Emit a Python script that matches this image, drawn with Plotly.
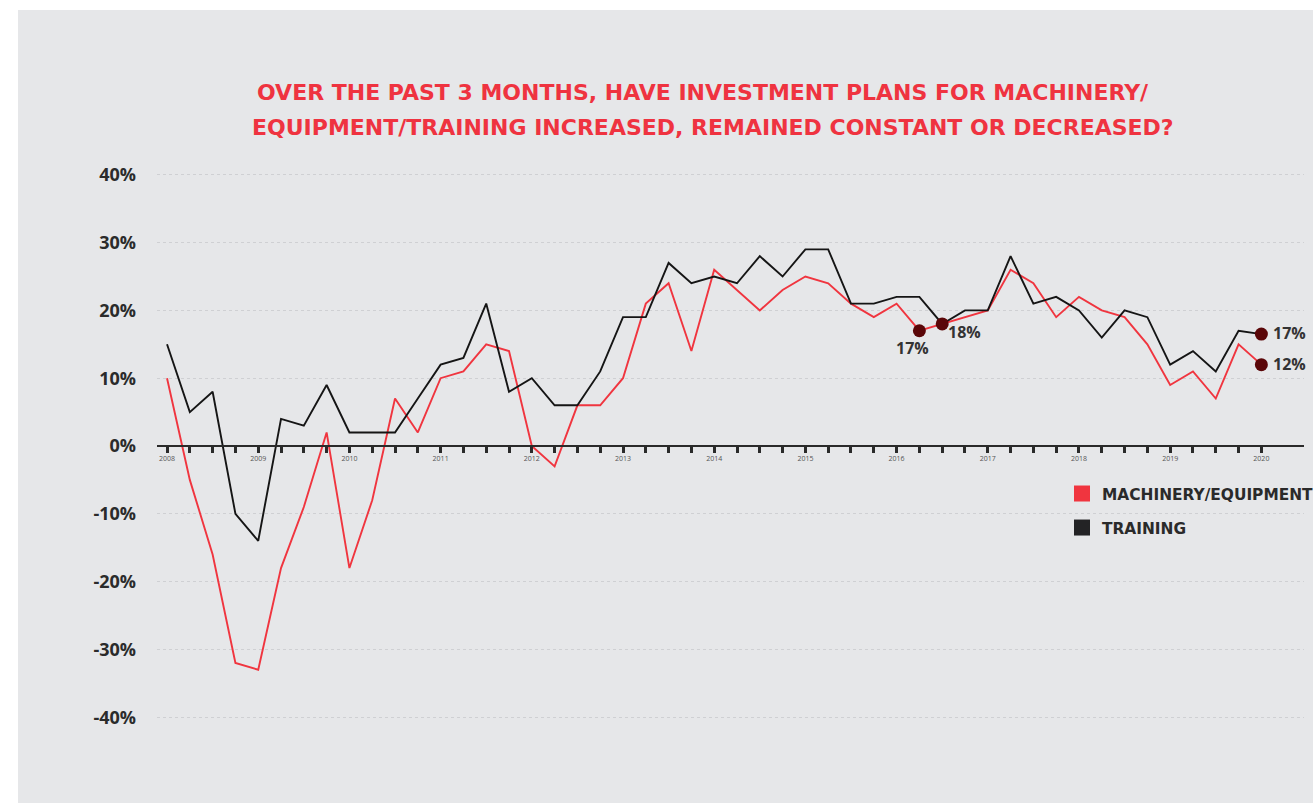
import plotly.graph_objects as go

# ---------------- data ----------------
quarters = [f"{y} Q{q}" for y in range(2008, 2021) for q in range(1, 5)][:49]
machinery = [10, -5, -16, -32, -33, -18, -9, 2, -18, -8, 7, 2,
             10, 11, 15, 14, 0, -3, 6, 6, 10, 21, 24, 14,
             26, 23, 20, 23, 25, 24, 21, 19, 21, 17, 18, 19,
             20, 26, 24, 19, 22, 20, 19, 15, 9, 11, 7, 15, 12]
training = [15, 5, 8, -10, -14, 4, 3, 9, 2, 2, 2, 7,
            12, 13, 21, 8, 10, 6, 6, 11, 19, 19, 27, 24,
            25, 24, 28, 25, 29, 29, 21, 21, 22, 22, 18, 20,
            20, 28, 21, 22, 20, 16, 20, 19, 12, 14, 11, 17, 16.5]
y_ticks = [-40, -30, -20, -10, 0, 10, 20, 30, 40]
y_tick_labels = [f"{v}%" for v in y_ticks]
title_lines = ["OVER THE PAST 3 MONTHS, HAVE INVESTMENT PLANS FOR MACHINERY/",
               "EQUIPMENT/TRAINING INCREASED, REMAINED CONSTANT OR DECREASED?"]
series_names = ["MACHINERY/EQUIPMENT", "TRAINING"]
# highlighted points: (series, quarter index, label)
highlights = [("machinery", 33, "17%"), ("training", 34, "18%"),
              ("training", 48, "17%"), ("machinery", 48, "12%")]

# ---------------- styles ----------------
RED = "#f0353f"
BLACK = "#151515"
DOT = "#5a0608"
BG = "#e6e7e9"
FONT = "Open Sans"
WIDE = "DejaVu Sans"
OFF = 0  # page body margin removed via post_script
# figure a bit wider than the window so the legend never pushes the margins
W, H = 1313 + 30, 805
# plot area in screen pixels: x 157..1304, y 168..724
ML, MT = 157 - OFF, 168 - OFF
MR = W - (1304 - OFF)
MB = H - (724 - OFF)
pw = W - ML - MR
ph = H - MT - MB


def px_x(sx):
    return (sx - OFF - ML) / pw


def px_y(sy):
    return (H - MB - (sy - OFF)) / ph


x_idx = list(range(len(quarters)))
tickvals = x_idx
ticktext = [q.split(" ")[0] if q.endswith("Q1") else "" for q in quarters]

fig = go.Figure()

fig.add_trace(go.Scatter(x=x_idx, y=machinery, mode="lines", name=series_names[0],
                         line=dict(color=RED, width=1.9), showlegend=False,
                         hovertext=quarters))
fig.add_trace(go.Scatter(x=x_idx, y=training, mode="lines", name=series_names[1],
                         line=dict(color=BLACK, width=1.9), showlegend=False,
                         hovertext=quarters))

data_map = {"machinery": machinery, "training": training}
fig.add_trace(go.Scatter(
    x=[h[1] for h in highlights],
    y=[data_map[h[0]][h[1]] for h in highlights],
    mode="markers", marker=dict(color=DOT, size=13), showlegend=False))

# legend entries (square swatches)
for name, col, grp in [(series_names[0], RED, "a"), (series_names[1], "#232325", "b")]:
    fig.add_trace(go.Scatter(x=[None], y=[None], mode="markers", name=name,
                             legendgroup=grp,
                             marker=dict(symbol="square", size=20, color=col)))

# label offsets (px) for highlight labels
offsets = [(-7, -17, "center"), (4, -8, "left"), (10, 1, "left"), (10, 1, "left")]
for (s, i, lab), (dx, dy, xa) in zip(highlights, offsets):
    fig.add_annotation(x=i, y=data_map[s][i], xref="x", yref="y", text=f"<b>{lab}</b>",
                       showarrow=False, xanchor=xa, yanchor="middle",
                       xshift=dx, yshift=dy,
                       font=dict(family=FONT, size=16, color="#333333"))

# title lines
for txt, cx, cy in [(title_lines[0], 702.5, 92.5), (title_lines[1], 712.5, 127)]:
    fig.add_annotation(x=px_x(cx), y=px_y(cy), xref="paper", yref="paper",
                       text=f"<b>{txt}</b>", showarrow=False, xanchor="center", yanchor="middle",
                       font=dict(family=WIDE, size=22, color="#ef3340"))

# gray panel background
fig.add_shape(type="rect", xref="paper", yref="paper", layer="below",
              x0=px_x(18), x1=px_x(1345), y0=px_y(803), y1=px_y(10),
              fillcolor=BG, line=dict(width=0))

fig.update_layout(
    width=W, height=H,
    margin=dict(l=ML, r=MR, t=MT, b=MB),
    paper_bgcolor="white", plot_bgcolor=BG,
    font=dict(family=FONT),
    showlegend=True,
    legend=dict(x=px_x(1062), y=px_y(477), xanchor="left", yanchor="top",
                bgcolor="rgba(0,0,0,0)", traceorder="grouped", tracegroupgap=11,
                font=dict(family=WIDE, size=15.4, color="#2a2a2a", weight="bold"),
                itemsizing="trace"),
    xaxis=dict(range=[-0.44, 49.87], tickvals=tickvals, ticktext=ticktext,
               anchor="free", position=0.5, showline=True, linecolor="#2a2a2a", linewidth=2,
               ticks="outside", ticklen=6, tickwidth=3, tickcolor="#2a2a2a",
               tickfont=dict(family=FONT, size=7, color="#555555"),
               showgrid=False, zeroline=False),
    yaxis=dict(range=[-41, 41], tickvals=y_ticks, ticktext=y_tick_labels,
               showgrid=True, gridcolor="#cfd0d3", griddash="dot", gridwidth=1,
               zeroline=False, showline=False, ticks="", ticklabelstandoff=20,
               tickfont=dict(family=FONT, size=18, color="#2b2b2b", weight="bold")),
)

fig.write_html("out.html", config={"displayModeBar": False},
               post_script="document.body.style.margin='0';document.body.style.overflow='hidden';")
